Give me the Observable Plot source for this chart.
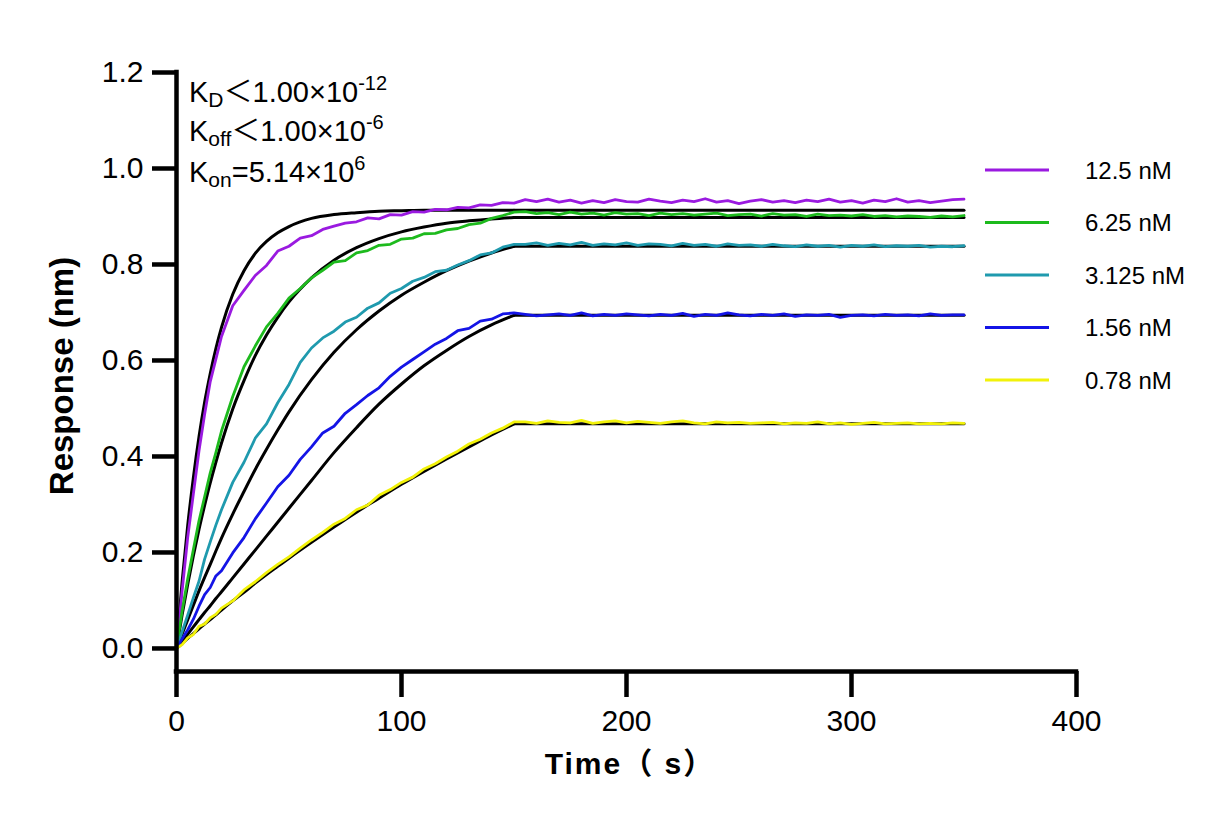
<!DOCTYPE html>
<html><head><meta charset="utf-8">
<script src="https://cdn.jsdelivr.net/npm/d3@7"></script>
<script src="https://cdn.jsdelivr.net/npm/@observablehq/plot@0.6"></script>
<style>body{margin:0;background:#fff;} #chart{width:1232px;height:825px;}</style>
</head><body><div id="chart"></div>
<script>
const concentrations = ["12.5 nM","6.25 nM","3.125 nM","1.56 nM","0.78 nM"];
const seriesColors = ["#9A1AE0","#1DBA1D","#1F9AAE","#1414E6","#F2F20A"];
const xTicks = [0,100,200,300,400];
const yTicks = [0,0.2,0.4,0.6,0.8,1.0,1.2];
const xTitle = "Time（ s）";
const yTitle = "Response (nm)";

const timeData = [0,2.5,5,7.5,10,12.5,15,17.5,20,25,30,35,40,45,50,55,60,65,70,75,80,85,90,95,100,105,110,115,120,125,130,135,140,145,150,
 155,160,165,170,175,180,185,190,195,200,205,210,215,220,225,230,235,240,245,250,255,260,265,270,275,280,285,290,295,300,305,310,315,320,325,330,335,340,345,350];

const resp125 = [0,0.12,0.232,0.322,0.412,0.488,0.556,0.603,0.650,
 0.714,0.746,0.777,0.798,0.828,0.838,0.855,0.860,0.873,0.880,0.886,0.889,0.897,0.895,0.904,0.903,0.910,0.909,0.915,0.914,0.919,0.918,0.924,0.923,0.929,0.928,
 0.935,0.931,0.936,0.930,0.934,0.928,0.933,0.929,0.935,0.931,0.930,0.936,0.932,0.929,0.934,0.931,0.937,0.930,0.933,0.927,
 0.932,0.935,0.930,0.933,0.929,0.934,0.931,0.936,0.930,0.933,0.928,0.934,0.931,0.937,0.930,0.933,0.929,0.932,0.935,0.936];
const resp625 = [0,0.078,0.145,0.206,0.266,0.316,0.366,0.408,0.453,
 0.525,0.587,0.630,0.670,0.698,0.730,0.750,0.772,0.788,0.805,0.808,0.824,0.829,0.840,0.842,0.853,0.855,0.864,0.865,0.872,0.875,0.883,0.886,0.896,0.902,0.909,
 0.910,0.906,0.908,0.904,0.909,0.905,0.907,0.903,0.908,0.905,0.906,0.902,0.907,0.904,0.906,0.903,0.905,0.907,0.902,0.904,
 0.905,0.901,0.906,0.903,0.904,0.900,0.905,0.902,0.903,0.901,0.904,0.900,0.902,0.899,0.901,0.900,0.898,0.901,0.899,0.902];
const resp3125 = [0,0.035,0.07,0.106,0.14,0.186,0.222,0.257,0.289,
 0.346,0.388,0.438,0.468,0.512,0.550,0.596,0.626,0.647,0.661,0.680,0.690,0.709,0.720,0.740,0.750,0.765,0.773,0.785,0.788,0.799,0.808,0.820,0.824,0.836,0.842,
 0.842,0.845,0.840,0.844,0.841,0.846,0.840,0.843,0.841,0.845,0.840,0.843,0.842,0.839,0.844,0.840,0.842,0.838,0.843,0.840,
 0.841,0.838,0.842,0.839,0.837,0.841,0.838,0.840,0.836,0.840,0.838,0.841,0.837,0.839,0.838,0.840,0.836,0.838,0.837,0.839];
const resp156 = [0,0.02,0.039,0.061,0.088,0.112,0.127,0.151,0.162,
 0.199,0.231,0.270,0.303,0.337,0.361,0.394,0.420,0.449,0.463,0.490,0.508,0.527,0.543,0.567,0.586,0.602,0.618,0.634,0.646,0.662,0.667,0.682,0.686,0.697,0.699,
 0.696,0.693,0.695,0.697,0.694,0.699,0.693,0.696,0.694,0.697,0.695,0.693,0.696,0.694,0.698,0.692,0.696,0.694,0.699,0.695,
 0.693,0.696,0.694,0.697,0.692,0.695,0.694,0.696,0.690,0.694,0.695,0.693,0.696,0.694,0.695,0.693,0.697,0.694,0.695,0.695];
const resp078 = [0,0.008,0.022,0.029,0.046,0.051,0.064,0.071,0.084,
 0.099,0.122,0.139,0.158,0.175,0.191,0.209,0.226,0.242,0.259,0.271,0.289,0.299,0.319,0.331,0.346,0.357,0.374,0.385,0.399,0.411,0.426,0.436,0.449,0.459,0.472,
 0.472,0.469,0.474,0.471,0.470,0.475,0.469,0.472,0.474,0.470,0.473,0.471,0.469,0.472,0.474,0.470,0.468,0.472,0.470,0.471,
 0.469,0.470,0.471,0.468,0.470,0.469,0.472,0.468,0.470,0.467,0.469,0.471,0.468,0.469,0.470,0.468,0.469,0.468,0.470,0.469];

const fitTime = [0,2.5,5,7.5,10,12.5,15,17.5,20,25,30,35,40,45,50,60,70,80,90,100,110,120,130,140,150];
const fit125 = [0,0.139,0.257,0.356,0.441,0.513,0.573,0.625,0.669,0.738,0.787,0.823,0.848,0.866,0.879,0.896,0.904,0.908,0.911,0.912,0.913,0.913,0.913,0.913,0.913];
const fit625 = [0,0.070,0.134,0.193,0.248,0.298,0.345,0.388,0.428,0.499,0.558,0.610,0.653,0.690,0.722,0.772,0.809,0.835,0.854,0.868,0.878,0.886,0.891,0.895,0.898];
const fit3125 = [0,0.03,0.06,0.09,0.12,0.148,0.175,0.203,0.23,0.28,0.327,0.373,0.415,0.455,0.493,0.56,0.617,0.664,0.703,0.736,0.763,0.787,0.807,0.824,0.838];
const fit156 = [0,0.015,0.03,0.045,0.06,0.075,0.089,0.104,0.118,0.147,0.176,0.205,0.234,0.263,0.292,0.350,0.408,0.460,0.509,0.551,0.589,0.621,0.650,0.674,0.694];
const fit078 = [0,0.010,0.021,0.031,0.041,0.051,0.060,0.070,0.080,0.099,0.117,0.136,0.154,0.171,0.188,0.221,0.253,0.284,0.313,0.342,0.369,0.395,0.420,0.445,0.468];
const dissocEnd = 350;

const dataSeries = [resp125, resp625, resp3125, resp156, resp078];
const fitSeries = [fit125, fit625, fit3125, fit156, fit078];

const dataRows = concentrations.flatMap((c,k) => timeData.map((t,i) => ({t, v: dataSeries[k][i], c})));
const fitRows = concentrations.flatMap((c,k) => fitTime.map((t,i) => ({t, v: fitSeries[k][i], c})));
const fitDisRows = concentrations.flatMap((c,k) => {
  const last = fitSeries[k][fitSeries[k].length-1];
  return [{t: fitTime[fitTime.length-1], v: last, c}, {t: dissocEnd, v: last, c}];
});

const FONT = "Liberation Sans, Arial, 'Noto Sans CJK SC', sans-serif";
const yLow = -0.048;

const chart = Plot.plot({
  width: 1232, height: 825,
  marginLeft: 176, marginRight: 156, marginTop: 72, marginBottom: 154,
  x: {domain: [0,400]},
  y: {domain: [yLow, 1.2]},
  color: {domain: concentrations, range: seriesColors},
  style: {fontFamily: FONT, fontSize: "30px", color: "black", background: "white"},
  marks: [
    Plot.line(fitRows, {x: "t", y: "v", z: "c", stroke: "black", strokeWidth: 3, curve: "monotone-x"}),
    Plot.line(fitDisRows, {x: "t", y: "v", z: "c", stroke: "black", strokeWidth: 3}),
    Plot.line(dataRows, {x: "t", y: "v", z: "c", stroke: "c", strokeWidth: 2.8, strokeLinejoin: "round"}),
    Plot.ruleX([0], {y1: yLow, y2: 1.2, stroke: "black", strokeWidth: 4.5, strokeLinecap: "square"}),
    Plot.ruleY([yLow], {x1: 0, x2: 400, stroke: "black", strokeWidth: 4.5, strokeLinecap: "square"}),
    Plot.axisY(yTicks, {tickSize: 24, tickPadding: 9, strokeWidth: 4.5, tickFormat: d3.format(".1f"), fontSize: 30, label: null}),
    Plot.axisX(xTicks, {tickSize: 26, tickPadding: 12, strokeWidth: 4.5, fontSize: 30, label: null})
  ]
});

const svg = d3.select(chart);
svg.append("text").attr("x", 630).attr("y", 774).attr("text-anchor", "middle")
  .attr("font-family", FONT).attr("font-size", 30).attr("font-weight", "bold")
  .attr("letter-spacing", 2).attr("fill", "black").text(xTitle);
svg.append("text").attr("transform", "translate(73,376) rotate(-90)").attr("text-anchor", "middle")
  .attr("font-family", FONT).attr("font-size", 33).attr("font-weight", "bold")
  .attr("fill", "black").text(yTitle);

// annotation
const ann = [
  {base: "K", sub: "D", rest: "＜1.00×10", sup: "-12", y: 102},
  {base: "K", sub: "off", rest: "＜1.00×10", sup: "-6", y: 141},
  {base: "K", sub: "on", rest: "=5.14×10", sup: "6", y: 182}
];
ann.forEach(a => {
  const t = svg.append("text").attr("x", 189).attr("y", a.y).attr("font-family", FONT)
    .attr("text-anchor", "start").attr("font-size", 29).attr("fill", "black");
  t.append("tspan").text(a.base);
  t.append("tspan").attr("font-size", 21).attr("dy", 5).text(a.sub);
  t.append("tspan").attr("dy", -5).text(a.rest);
  t.append("tspan").attr("font-size", 20).attr("dy", -12).text(a.sup);
});

// legend
concentrations.forEach((c, i) => {
  const y = 170 + i * 52.5;
  svg.append("line").attr("x1", 985).attr("x2", 1049).attr("y1", y).attr("y2", y)
    .attr("stroke", seriesColors[i]).attr("stroke-width", 3);
  svg.append("text").attr("x", 1085).attr("y", y + 8.5).attr("font-family", FONT)
    .attr("text-anchor", "start").attr("font-size", 24).attr("fill", "black").text(c);
});

document.getElementById("chart").appendChild(chart);
</script>
</body></html>
